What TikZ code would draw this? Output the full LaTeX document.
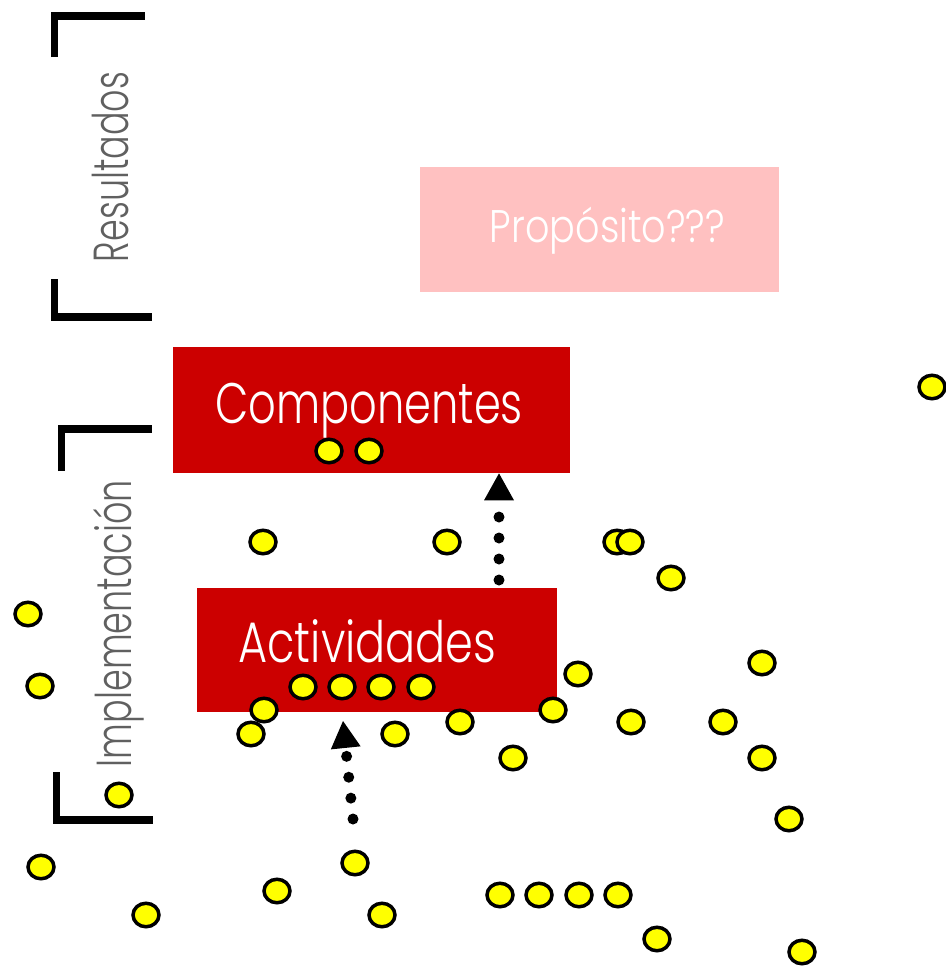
\documentclass[tikz,border=0pt]{standalone}
\usepackage{fontspec}
\usepackage{graphicx}
\newfontfamily\lightfont{Poppins}[UprightFont={* Light}]
\usetikzlibrary{shapes.geometric,arrows.meta}
\definecolor{boxred}{HTML}{CC0000}
\definecolor{boxpink}{HTML}{FFC1C1}
\definecolor{labgray}{HTML}{606060}
\definecolor{dotyellow}{HTML}{FFFF00}
\newlength\pxu
\setlength\pxu{0.02cm}
\newcommand\fitw[2]{\resizebox{#1\pxu}{\height}{#2}}
\tikzset{
  bracket/.style={line width=0.16cm, line join=miter, line cap=butt},
  redbox/.style={fill=boxred, draw=none, inner sep=0pt},
  pinkbox/.style={fill=boxpink, draw=none, inner sep=0pt},
  boxtext/.style={text=white, inner sep=0pt, anchor=base, font=\lightfont},
  sidetext/.style={text=labgray, inner sep=0pt, anchor=base, rotate=90, font=\lightfont},
  dot/.style={ellipse, draw=black, fill=dotyellow, line width=0.07cm, minimum width=0.52cm, minimum height=0.47cm, inner sep=0pt},
  dotarrow/.style={line width=0.22cm, line cap=round, dash pattern=on 0pt off 0.42cm,
    -{Triangle[width=0.6cm, length=0.54cm, line width=0pt]}}
}
\begin{document}
\begin{tikzpicture}[x=0.02cm, y=-0.02cm]
\useasboundingbox (0,0) rectangle (946,968);
% brackets
\draw[bracket] (54.5,57) -- (54.5,16) -- (145,16);
\draw[bracket] (54.5,279) -- (54.5,316.5) -- (152,316.5);
\draw[bracket] (61.5,471) -- (61.5,429) -- (152,429);
\draw[bracket] (56.5,772) -- (56.5,820) -- (153,820);
% side labels
\node[sidetext] (res) at (128,167) {\fontsize{28}{30}\selectfont\fitw{190}{Resultados}};
\node[sidetext] (imp) at (132,623.5) {\fontsize{28}{30}\selectfont\fitw{287}{Implementación}};
% boxes
\node[pinkbox, minimum width=7.18cm, minimum height=2.5cm] (prop) at (599.5,229.5) {};
\node[redbox, minimum width=7.94cm, minimum height=2.52cm] (comp) at (371.5,410) {};
\node[redbox, minimum width=7.2cm, minimum height=2.48cm] (act) at (377,650) {};
\node[boxtext] (propt) at (607.5,242) {\fontsize{26}{28}\selectfont\fitw{235}{Propósito???}};
\node[boxtext] (compt) at (369,423) {\fontsize{32.5}{34}\selectfont\fitw{308}{Componentes}};
\node[boxtext] (actt) at (367.5,662) {\fontsize{32.5}{34}\selectfont\fitw{258}{Actividades}};
% arrows
\coordinate (a1) at (499,580);
\coordinate (a2) at (353,819);
\coordinate (a2t) at (343,721);
\draw[dotarrow] (a1) -- (comp.south -| a1);
\draw[dotarrow] (a2) -- (a2t);
% dots
\foreach \x/\y [count=\i] in {
  932/387, 329/451, 369/451,
  263/542, 447/542, 617/542, 630/542, 671/578,
  28/614, 40/686, 762/663, 578/674,
  303/687, 342/687, 381/687, 421/687,
  264/710, 251/734, 395/734, 460/722, 553/710, 631/722, 723/722,
  513/758, 762/758, 119/795, 789/819,
  41/867, 355/863, 277/891, 146/915, 382/915,
  500/895, 539/895, 579/895, 618/895, 657/939, 802/952}
  \node[dot] (d\i) at (\x,\y) {};
\end{tikzpicture}
\end{document}
